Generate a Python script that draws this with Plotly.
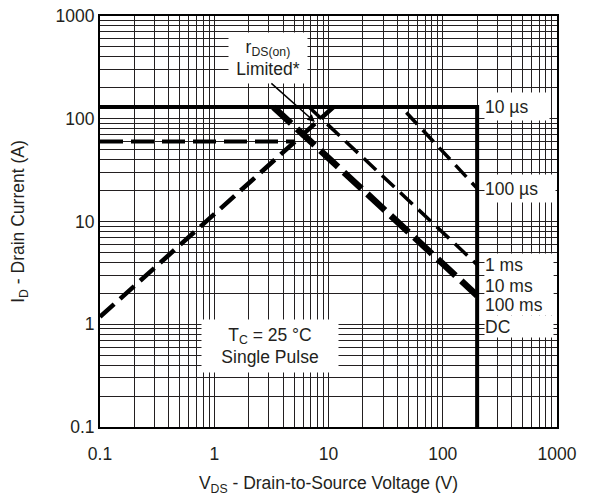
import plotly.graph_objects as go
import math

# ---- data ----
vds_10us = [0.1, 200, 200]
id_10us = [130, 130, 0.1]

vds_idc = [0.1, 5.1]
id_idc = [60, 60]

vds_rds = [0.1, 11.05]
id_rds = [1.18, 130]

vds_100us = [48, 200]
id_100us = [115, 21]

vds_1ms = [6.75, 200]
id_1ms = [130, 3.8]

vds_10ms = [3.3, 200]
id_10ms = [130, 1.9]

decades = [0.1, 1, 10, 100, 1000]
decade_labels = ["0.1", "1", "10", "100", "1000"]

INK = "#231f20"
FONT = "Liberation Sans, Arial, Helvetica, sans-serif"

# gridline positions 1..9 per decade
grid_vals = []
grid_text = []
for i, d in enumerate(decades[:-1]):
    for m in range(1, 10):
        grid_vals.append(d * m)
        grid_text.append(decade_labels[i] if m == 1 else " ")
grid_vals.append(decades[-1])
grid_text.append(decade_labels[-1])

fig = go.Figure()

def add_line(x, y, width, dash):
    fig.add_trace(go.Scatter(x=x, y=y, mode="lines",
                             line=dict(color="black", width=width, dash=dash),
                             showlegend=False, hoverinfo="skip"))

add_line(vds_10us, id_10us, 4, "solid")
add_line(vds_idc, id_idc, 4, "23px,8px")
add_line(vds_rds, id_rds, 4.5, "19px,8px")
add_line(vds_100us, id_100us, 3.5, "16px,8px")
add_line(vds_1ms, id_1ms, 3.5, "17px,8px")
add_line(vds_10ms, id_10ms, 6.5, "24px,8px")

# page body margin is removed by post_script, so figure fills the window
W, H = 594, 497
PL, PR, PT, PB = 100, 557, 16, 427   # plot area in page pixels
L, R, T, B = PL, W - PR, PT, H - PB
pw, ph = PR - PL, PB - PT

def px(xp):
    return (xp - PL) / pw

def py(yp):
    return (PB - yp) / ph

fs = 17.5
anns = []

def label(text, xp, yp, xanchor="left", width=None, height=None, align="left"):
    d = dict(text=text, x=px(xp), y=py(yp), xref="paper", yref="paper",
             xanchor=xanchor, yanchor="middle", showarrow=False,
             bgcolor="white", borderpad=0, align=align,
             font=dict(family=FONT, size=fs, color=INK))
    if width:
        d["width"] = width
    if height:
        d["height"] = height
    anns.append(d)

label("10 µs", 484, 107, width=64, height=27)
label("100 µs", 484, 188, width=70, height=27)
label("1 ms", 484, 264, width=68, height=21)
label("10 ms", 484, 285, width=68, height=21)
label("100 ms", 484, 305, width=68, height=21)
label("DC", 484, 326, width=68, height=21)

label("r<sub>DS(on)</sub><br>Limited*", 268, 58, xanchor="center",
      width=78, height=50, align="center")
label("T<sub>C</sub> = 25 °C<br>Single Pulse", 270, 346, xanchor="center",
      width=136, height=52, align="center")

# arrow from label to rDS(on) line
anns.append(dict(text="", x=math.log10(7.6), y=math.log10(93), xref="x", yref="y",
                 showarrow=True, ax=-45, ay=-40, arrowhead=2, arrowsize=1,
                 arrowwidth=1.5, arrowcolor="black"))

fig.update_layout(
    width=W, height=H,
    margin=dict(l=L, r=R, t=T, b=B, autoexpand=False),
    paper_bgcolor="white", plot_bgcolor="white",
    font=dict(family=FONT, size=fs, color=INK),
    annotations=anns,
    xaxis=dict(type="log", range=[-1, 3], tickvals=grid_vals, ticktext=grid_text,
               showgrid=True, gridcolor=INK, gridwidth=1,
               showline=True, linecolor="black", linewidth=2, mirror=True,
               ticks="outside", ticklen=10, tickcolor="rgba(0,0,0,0)",
               tickangle=0, ticklabeloverflow="allow",
               zeroline=False, automargin=True,
               title=dict(text="V<sub>DS</sub> - Drain-to-Source Voltage (V)",
                          font=dict(family=FONT, size=fs, color=INK), standoff=14)),
    yaxis=dict(type="log", range=[-1, 3], tickvals=grid_vals, ticktext=grid_text,
               showgrid=True, gridcolor=INK, gridwidth=1,
               showline=True, linecolor="black", linewidth=2, mirror=True,
               ticks="outside", ticklen=0, tickcolor="rgba(0,0,0,0)",
               tickangle=0, ticklabeloverflow="allow",
               zeroline=False, automargin=True,
               title=dict(text="I<sub>D</sub> - Drain Current (A)",
                          font=dict(family=FONT, size=fs, color=INK), standoff=26)),
)

fig.write_html("out.html",
               config={"displayModeBar": False, "staticPlot": True},
               post_script="document.body.style.margin='0';document.body.style.padding='0';")
